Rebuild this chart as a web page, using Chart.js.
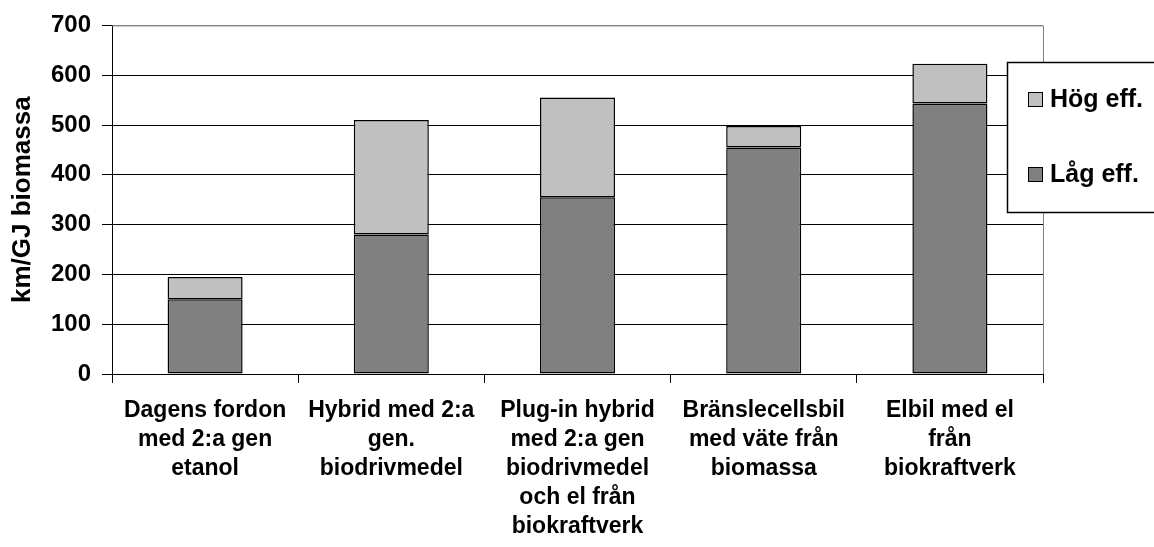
<!DOCTYPE html>
<html>
<head>
<meta charset="utf-8">
<script src="https://cdn.jsdelivr.net/npm/chart.js@4/dist/chart.umd.min.js"></script>
<style>
  html, body { margin: 0; padding: 0; background: #fff; }
  #wrap { width: 1154px; height: 547px; position: relative; }
</style>
</head>
<body>
<div id="wrap"><canvas id="myCanvas"></canvas></div>
<script>
// categories (multi-line labels as in the original)
var categories = [
    ['Dagens fordon', 'med 2:a gen', 'etanol'],
    ['Hybrid med 2:a', 'gen.', 'biodrivmedel'],
    ['Plug-in hybrid', 'med 2:a gen', 'biodrivmedel', 'och el från', 'biokraftverk'],
    ['Bränslecellsbil', 'med väte från', 'biomassa'],
    ['Elbil med el', 'från', 'biokraftverk']
];

// stacked series, low efficiency at the bottom
var lagEff = [150, 280, 355, 455, 543];
var hogEff = [45, 230, 200, 43, 80];

var yTicks = [0, 100, 200, 300, 400, 500, 600, 700];
var yTitle = 'km/GJ biomassa';

var fontFamily = "'Liberation Sans', Arial, sans-serif";

// legend box drawn on top of the plot, like the excel original
var boxLegend = {
    id: 'boxLegend',
    afterDraw: function (chart) {
        var ctx = chart.ctx;
        var area = chart.chartArea;

        // grey frame on top and right of the plot area
        ctx.save();
        ctx.strokeStyle = '#808080';
        ctx.lineWidth = 1;
        ctx.beginPath();
        ctx.moveTo(area.left, area.top + 0.5);
        ctx.lineTo(area.right + 0.5, area.top + 0.5);
        ctx.lineTo(area.right + 0.5, area.bottom);
        ctx.stroke();

        var x = 1007, y = 62;
        ctx.fillStyle = '#ffffff';
        ctx.fillRect(x, y, 160, 150);
        ctx.strokeStyle = '#000000';
        ctx.lineWidth = 1.5;
        ctx.strokeRect(x + 0.5, y + 0.5, 160, 150);

        var sets = chart.data.datasets.slice().reverse();
        ctx.font = 'bold 25px ' + fontFamily;
        ctx.textBaseline = 'middle';
        sets.forEach(function (ds, i) {
            var cy = 99.5 + i * 75;
            ctx.fillStyle = ds.backgroundColor;
            ctx.fillRect(1028, cy - 7.5, 15, 15);
            ctx.strokeStyle = '#000000';
            ctx.lineWidth = 1;
            ctx.strokeRect(1028.5, cy - 7, 14, 14);
            ctx.fillStyle = '#000000';
            ctx.fillText(ds.label, 1050, cy + 1);
        });
        ctx.restore();
    }
};

var canvas = document.getElementById('myCanvas');
var ctx = canvas.getContext('2d');

var myChart = new Chart(ctx, {
    type: 'bar',
    data: {
        labels: categories,
        datasets: [{
            label: 'Låg eff.',
            data: lagEff,
            backgroundColor: '#808080',
            borderColor: '#000000',
            borderWidth: 1.5,
            borderSkipped: false,
            categoryPercentage: 1,
            barPercentage: 0.403
        }, {
            label: 'Hög eff.',
            data: hogEff,
            backgroundColor: '#c0c0c0',
            borderColor: '#000000',
            borderWidth: 1.5,
            borderSkipped: false,
            categoryPercentage: 1,
            barPercentage: 0.403
        }]
    },
    options: {
        responsive: true,
        maintainAspectRatio: false,
        animation: false,
        layout: { padding: { left: 0, right: 111, top: 24, bottom: 0 } },
        plugins: {
            legend: { display: false },
            tooltip: { enabled: false }
        },
        scales: {
            x: {
                stacked: true,
                afterFit: function (scale) { scale.height = 173; },
                grid: {
                    drawOnChartArea: false,
                    drawTicks: true,
                    tickLength: 9,
                    color: '#000000'
                },
                border: { color: '#000000', width: 1 },
                ticks: {
                    color: '#000000',
                    maxRotation: 0,
                    autoSkip: false,
                    padding: 13,
                    font: { family: fontFamily, size: 23, weight: 'bold', lineHeight: 1.26 }
                }
            },
            y: {
                stacked: true,
                min: yTicks[0],
                max: yTicks[yTicks.length - 1],
                afterFit: function (scale) { scale.width = 112; },
                afterBuildTicks: function (scale) {
                    scale.ticks = yTicks.map(function (v) { return { value: v }; });
                },
                grid: {
                    color: function (c) { return c.tick && c.tick.value === 700 ? '#808080' : '#000000'; },
                    tickColor: '#000000',
                    tickLength: 10,
                    lineWidth: 1
                },
                border: { color: '#000000', width: 1 },
                ticks: {
                    color: '#000000',
                    padding: 11,
                    font: { family: fontFamily, size: 24, weight: 'bold' }
                },
                title: {
                    display: true,
                    text: yTitle,
                    color: '#000000',
                    padding: { top: 7, bottom: 0 },
                    font: { family: fontFamily, size: 26, weight: 'bold' }
                }
            }
        }
    },
    plugins: [boxLegend]
});
</script>
</body>
</html>
